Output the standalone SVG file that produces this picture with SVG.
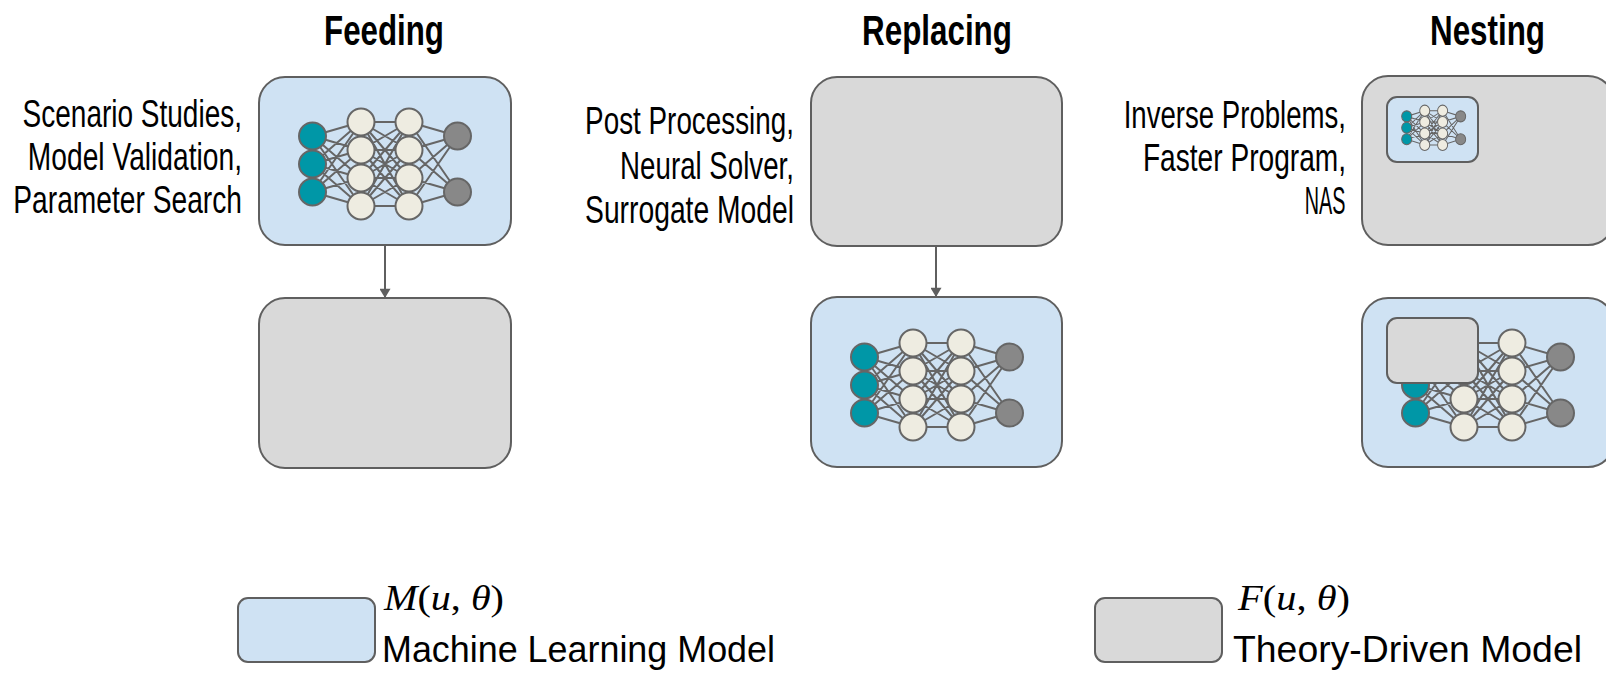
<svg xmlns="http://www.w3.org/2000/svg" xmlns:xlink="http://www.w3.org/1999/xlink" width="1606" height="676" viewBox="0 0 1606 676">
  <style>
    .ml { fill: #cfe2f3; stroke: #5f5f5f; stroke-width: 2; }
    .th { fill: #d9d9d9; stroke: #5f5f5f; stroke-width: 2; }
    .edges { fill: none; stroke: #666666; }
    .in { fill: #0097a7; stroke: #666666; }
    .hid { fill: #eeece1; stroke: #666666; }
    .out { fill: #888888; stroke: #666666; }
    .title { font-family: "Liberation Sans", Arial, sans-serif; font-weight: 700; font-size: 42px; fill: #000; text-anchor: middle; }
    .lbl { font-family: "Liberation Sans", Arial, sans-serif; font-size: 39px; fill: #000; text-anchor: end; }
    .leg { font-family: "Liberation Sans", Arial, sans-serif; font-size: 36px; fill: #000; }
    .math { font-family: "Liberation Serif", "DejaVu Serif", serif; font-size: 35px; fill: #000; }
    .conn { stroke: #5f5f5f; stroke-width: 2; fill: none; }
  </style>
  <defs>
    <!-- small feed-forward network: 3 inputs, two hidden layers of 4, 2 outputs -->
    <g id="nn">
      <path class="edges" d="M53.5 59L102 45M53.5 59L102 73M53.5 59L102 101M53.5 59L102 129M53.5 87L102 45M53.5 87L102 73M53.5 87L102 101M53.5 87L102 129M53.5 115L102 45M53.5 115L102 73M53.5 115L102 101M53.5 115L102 129M102 45L150 45M102 45L150 73M102 45L150 101M102 45L150 129M102 73L150 45M102 73L150 73M102 73L150 101M102 73L150 129M102 101L150 45M102 101L150 73M102 101L150 101M102 101L150 129M102 129L150 45M102 129L150 73M102 129L150 101M102 129L150 129M150 45L198.5 59M150 45L198.5 115M150 73L198.5 59M150 73L198.5 115M150 101L198.5 59M150 101L198.5 115M150 129L198.5 59M150 129L198.5 115"/>
      <circle class="in" cx="53.5" cy="59" r="13.5"/>
      <circle class="in" cx="53.5" cy="87" r="13.5"/>
      <circle class="in" cx="53.5" cy="115" r="13.5"/>
      <circle class="hid" cx="102" cy="45" r="13.5"/>
      <circle class="hid" cx="102" cy="73" r="13.5"/>
      <circle class="hid" cx="102" cy="101" r="13.5"/>
      <circle class="hid" cx="102" cy="129" r="13.5"/>
      <circle class="hid" cx="150" cy="45" r="13.5"/>
      <circle class="hid" cx="150" cy="73" r="13.5"/>
      <circle class="hid" cx="150" cy="101" r="13.5"/>
      <circle class="hid" cx="150" cy="129" r="13.5"/>
      <circle class="out" cx="198.5" cy="59" r="13.5"/>
      <circle class="out" cx="198.5" cy="115" r="13.5"/>
    </g>
    <marker id="arrow" viewBox="0 0 10 12" refX="10" refY="6" markerUnits="userSpaceOnUse" markerWidth="12" markerHeight="11" orient="auto">
      <path d="M0 0L10 6L0 12Z" fill="#5f5f5f"/>
    </marker>
  </defs>

  <!-- column titles (condensed by horizontal scaling) -->
  <text class="title" transform="translate(384,45) scale(0.745,1)">Feeding</text>
  <text class="title" transform="translate(937,45) scale(0.747,1)">Replacing</text>
  <text class="title" transform="translate(1487.5,45) scale(0.747,1)">Nesting</text>

  <!-- use-case labels -->
  <g id="feeding-labels">
    <text class="lbl" transform="translate(242,127) scale(0.718,1)">Scenario Studies,</text>
    <text class="lbl" transform="translate(242,170) scale(0.723,1)">Model Validation,</text>
    <text class="lbl" transform="translate(242,213) scale(0.723,1)">Parameter Search</text>
  </g>
  <g id="replacing-labels">
    <text class="lbl" transform="translate(794,134) scale(0.714,1)">Post Processing,</text>
    <text class="lbl" transform="translate(794,178.5) scale(0.71,1)">Neural Solver,</text>
    <text class="lbl" transform="translate(794,223) scale(0.725,1)">Surrogate Model</text>
  </g>
  <g id="nesting-labels">
    <text class="lbl" transform="translate(1346,127.5) scale(0.708,1)">Inverse Problems,</text>
    <text class="lbl" transform="translate(1346,170.5) scale(0.721,1)">Faster Program,</text>
    <text class="lbl" transform="translate(1345.5,214) scale(0.508,1)">NAS</text>
  </g>

  <!-- connectors -->
  <g id="connectors">
    <line class="conn" x1="385" y1="246" x2="385" y2="298" marker-end="url(#arrow)"/>
    <line class="conn" x1="936" y1="246" x2="936" y2="297" marker-end="url(#arrow)"/>
  </g>

  <!-- Feeding -->
  <g id="feeding-ml">
    <rect class="ml" x="259" y="77" width="252" height="168" rx="26"/>
    <use xlink:href="#nn" transform="translate(259,77)" stroke-width="2"/>
  </g>
  <g id="feeding-theory">
    <rect class="th" x="259" y="298" width="252" height="170" rx="26"/>
  </g>

  <!-- Replacing -->
  <g id="replacing-theory">
    <rect class="th" x="811" y="77" width="251" height="169" rx="26"/>
  </g>
  <g id="replacing-ml">
    <rect class="ml" x="811" y="297" width="251" height="170" rx="26"/>
    <use xlink:href="#nn" transform="translate(811,298)" stroke-width="2"/>
  </g>

  <!-- Nesting -->
  <g id="nesting-theory">
    <rect class="th" x="1362" y="76" width="252" height="169" rx="26"/>
    <rect class="ml" x="1387" y="97" width="91" height="65" rx="10"/>
    <use xlink:href="#nn" transform="translate(1386.8,92.3) scale(0.372,0.408)" stroke-width="2.6"/>
  </g>
  <g id="nesting-ml">
    <rect class="ml" x="1362" y="298" width="252" height="169" rx="26"/>
    <use xlink:href="#nn" transform="translate(1362,298)" stroke-width="2"/>
    <rect class="th" x="1387" y="318" width="91" height="65" rx="10"/>
  </g>

  <!-- legend -->
  <g id="legend-ml">
    <rect class="ml" x="238" y="598" width="137" height="64" rx="10"/>
    <text class="math" x="384" y="610" textLength="120" lengthAdjust="spacingAndGlyphs"><tspan font-style="italic">M</tspan>(<tspan font-style="italic">u</tspan>, <tspan font-style="italic">θ</tspan>)</text>
    <text class="leg" x="382" y="662" textLength="393" lengthAdjust="spacingAndGlyphs">Machine Learning Model</text>
  </g>
  <g id="legend-theory">
    <rect class="th" x="1095" y="598" width="127" height="64" rx="10"/>
    <text class="math" x="1238" y="610" textLength="112" lengthAdjust="spacingAndGlyphs"><tspan font-style="italic">F</tspan>(<tspan font-style="italic">u</tspan>, <tspan font-style="italic">θ</tspan>)</text>
    <text class="leg" x="1233" y="662" textLength="349" lengthAdjust="spacingAndGlyphs">Theory-Driven Model</text>
  </g>
</svg>
